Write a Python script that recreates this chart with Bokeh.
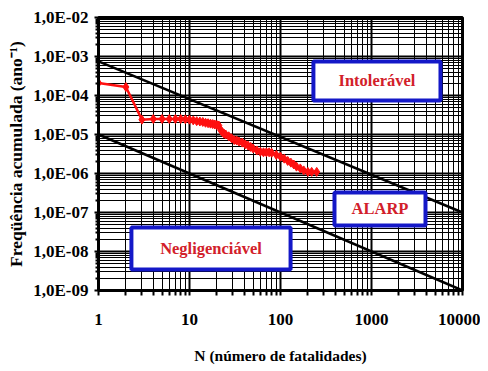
from bokeh.plotting import figure
from bokeh.models import (FixedTicker, CustomJSTickFormatter, BoxAnnotation, Label,
                          ColumnDataSource)
from bokeh.embed import file_html
from bokeh.resources import INLINE

# ---- data ----
fn_n = [1, 2, 3, 4, 5, 6, 7, 8, 9, 10, 11, 12, 13, 14, 15, 16, 17, 18, 19, 20, 21,
        22, 23, 24, 25, 27, 29, 31, 33, 35, 38, 41, 44, 47, 50, 55, 60, 65, 70, 75,
        80, 90, 100, 110, 120, 130, 140, 150, 165, 180, 200, 220, 250]
fn_f = [2.1e-4, 1.65e-4, 2.4e-5, 2.5e-5, 2.5e-5, 2.5e-5, 2.5e-5, 2.5e-5, 2.45e-5, 2.4e-5,
        2.3e-5, 2.2e-5, 2.15e-5, 2.1e-5, 2.0e-5, 1.95e-5, 1.9e-5, 1.85e-5, 1.8e-5, 1.75e-5,
        1.7e-5, 1.3e-5, 1.15e-5, 1.05e-5, 1.0e-5, 9.0e-6, 8.0e-6, 7.2e-6, 7.0e-6, 6.6e-6,
        6.2e-6, 5.6e-6, 5.2e-6, 4.8e-6, 4.4e-6, 3.9e-6, 3.6e-6, 3.5e-6, 3.5e-6, 3.5e-6,
        3.4e-6, 3.0e-6, 2.7e-6, 2.4e-6, 2.1e-6, 1.9e-6, 1.7e-6, 1.5e-6, 1.35e-6, 1.2e-6,
        1.1e-6, 1.1e-6, 1.1e-6]

upper_n = [1, 10000]
upper_f = [7.5e-4, 1e-7]
lower_n = [1, 10000]
lower_f = [1e-5, 1e-9]

x_ticks = [1, 10, 100, 1000, 10000]
x_tick_labels = ["1", "10", "100", "1000", "10000"]
y_ticks = [1e-9, 1e-8, 1e-7, 1e-6, 1e-5, 1e-4, 1e-3, 1e-2]
y_tick_labels = ["1,0E-09", "1,0E-08", "1,0E-07", "1,0E-06", "1,0E-05",
                 "1,0E-04", "1,0E-03", "1,0E-02"]

region_labels = ["Intolerável", "ALARP", "Negligenciável"]

# ---- figure ----
SERIF = "Liberation Serif"
p = figure(width=480, height=371, x_axis_type="log", y_axis_type="log",
           x_range=(1, 10000), y_range=(1e-9, 1e-2),
           output_backend="svg", toolbar_location=None,
           min_border_left=98, min_border_right=18, min_border_top=17,
           min_border_bottom=81,
           x_axis_label="N (número de fatalidades)",
           y_axis_label="Freqüência acumulada (ano⁻¹)")
p.background_fill_color = "white"
p.border_fill_color = "white"
p.outline_line_color = "black"
p.outline_line_width = 3


def minors(ticks):
    out = []
    for t in ticks[:-1]:
        out += [t * k for k in range(2, 10)]
    return out


p.xaxis.ticker = FixedTicker(ticks=x_ticks, minor_ticks=minors(x_ticks))
p.yaxis.ticker = FixedTicker(ticks=y_ticks, minor_ticks=minors(y_ticks))

fmt_code = """
let best = 0;
for (let i = 0; i < vals.length; i++) {
  if (Math.abs(Math.log10(vals[i]) - Math.log10(tick)) <
      Math.abs(Math.log10(vals[best]) - Math.log10(tick))) best = i;
}
return labels[best];
"""
p.xaxis.formatter = CustomJSTickFormatter(args=dict(vals=x_ticks, labels=x_tick_labels), code=fmt_code)
p.yaxis.formatter = CustomJSTickFormatter(args=dict(vals=y_ticks, labels=y_tick_labels), code=fmt_code)

for ax in (p.xaxis, p.yaxis):
    ax.axis_line_color = "black"
    ax.axis_line_width = 3
    ax.major_tick_line_color = "black"
    ax.minor_tick_line_color = "black"
    ax.major_tick_line_width = 2
    ax.minor_tick_line_width = 2
    ax.major_tick_in = 0
    ax.minor_tick_in = 0
    ax.major_label_text_font = SERIF
    ax.major_label_text_font_style = "bold"
    ax.major_label_text_font_size = "17px"
    ax.major_label_text_color = "black"
    ax.axis_label_text_font = SERIF
    ax.axis_label_text_font_style = "bold"
    ax.axis_label_text_color = "black"

p.xaxis.major_tick_out = 5
p.xaxis.minor_tick_out = 5
p.xaxis.major_label_standoff = 18
p.xaxis.axis_label_standoff = 19
p.xaxis.axis_label_text_font_size = "15.5px"

p.yaxis.major_tick_out = 4
p.yaxis.minor_tick_out = 3
p.yaxis.major_label_standoff = 6
p.yaxis.axis_label_standoff = 4
p.yaxis.axis_label_text_font_size = "17.5px"

for g in (p.xgrid, p.ygrid):
    g.grid_line_color = "black"
    g.grid_line_width = 2
    g.grid_line_alpha = 1
    g.minor_grid_line_color = "black"
    g.minor_grid_line_width = 1

# criteria lines
p.line(upper_n, upper_f, line_color="black", line_width=2.5)
p.line(lower_n, lower_f, line_color="black", line_width=2.5)

# F-N curve
src = ColumnDataSource(dict(n=fn_n, f=fn_f))
p.line("n", "f", source=src, line_color="#ff1010", line_width=2.5)
p.scatter("n", "f", source=src, marker="diamond", size=9, fill_color="#ff1010",
          line_color="#ff1010")

# region boxes (left, right, bottom, top) in data units
boxes = [
    (230, 5730, 7.45e-5, 7.45e-4),
    (392, 3920, 4.64e-8, 3.26e-7),
    (2.3, 129, 3.45e-9, 4.12e-8),
]
for (l, r, b, t), txt in zip(boxes, region_labels):
    p.add_layout(BoxAnnotation(left=l, right=r, bottom=b, top=t,
                               fill_color="white", fill_alpha=1.0,
                               line_color="#1418c8", line_width=4, line_alpha=1.0))
    cx = (l * r) ** 0.5
    cy = (b * t) ** 0.5
    p.add_layout(Label(x=cx, y=cy, text=txt, text_align="center",
                       text_baseline="middle", text_font=SERIF,
                       text_font_style="bold", text_font_size="16.5px",
                       text_color="#d2202a"))

open("out.html", "w").write(file_html(p, INLINE))
